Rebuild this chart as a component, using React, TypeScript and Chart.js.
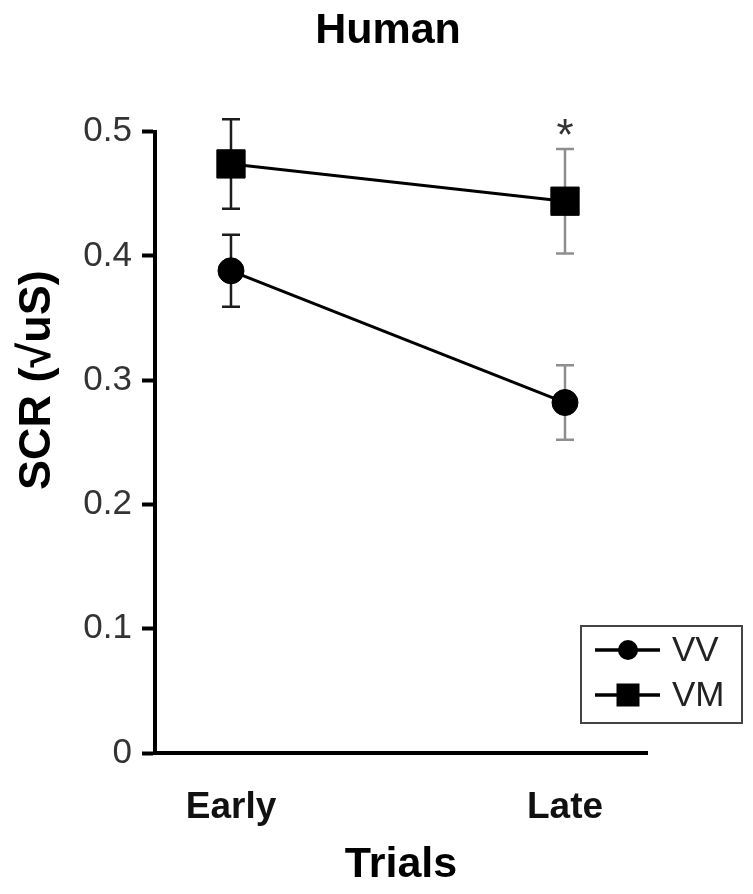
import React, { useEffect, useRef } from 'react';
import { Chart, registerables } from 'chart.js';

Chart.register(...registerables);

// ---- data ----
const categories = ['Early', 'Late'];
const seriesLabels = ['VV', 'VM'];
const vvMean = [0.388, 0.282];
const vvErr = [0.029, 0.030];
const vmMean = [0.474, 0.444];
const vmErr = [0.036, 0.042];
const yTicks = [0, 0.1, 0.2, 0.3, 0.4, 0.5];
const significance = ['', '*'];
const errColors = ['#1c1c1c', '#8e8e8e'];

const FONT = "'Liberation Sans', Arial, Helvetica, sans-serif";

const means = [vvMean, vmMean];
const errs = [vvErr, vmErr];

const errorBarPlugin = {
  id: 'errorBars',
  beforeDatasetsDraw(chart: any) {
    const { ctx, scales } = chart;
    const xs = scales.x;
    const ys = scales.y;
    ctx.save();
    means.forEach((m, d) => {
      m.forEach((v, i) => {
        const x = xs.getPixelForValue(i);
        const yt = ys.getPixelForValue(v + errs[d][i]);
        const yb = ys.getPixelForValue(v - errs[d][i]);
        ctx.strokeStyle = errColors[i];
        ctx.lineWidth = 2.5;
        ctx.beginPath();
        ctx.moveTo(x, yt);
        ctx.lineTo(x, yb);
        ctx.moveTo(x - 9, yt);
        ctx.lineTo(x + 9, yt);
        ctx.moveTo(x - 9, yb);
        ctx.lineTo(x + 9, yb);
        ctx.stroke();
      });
    });
    ctx.restore();
  },
};

const annotationPlugin = {
  id: 'annotations',
  afterDraw(chart: any) {
    const { ctx, scales, chartArea } = chart;
    const xs = scales.x;
    const ys = scales.y;
    ctx.save();
    // y-axis title
    ctx.translate(chartArea.left - 105, chartArea.top + (chartArea.bottom - chartArea.top) * 0.4);
    ctx.rotate(-Math.PI / 2);
    ctx.font = `bold 45px ${FONT}`;
    ctx.fillStyle = '#000';
    ctx.textAlign = 'center';
    ctx.textBaseline = 'alphabetic';
    ctx.fillText('SCR (\u221AuS)', 0, 0);
    ctx.restore();

    // significance marks
    ctx.save();
    ctx.font = `44px ${FONT}`;
    ctx.fillStyle = '#333';
    ctx.textAlign = 'center';
    ctx.textBaseline = 'alphabetic';
    significance.forEach((s, i) => {
      if (!s) return;
      const top = Math.max(vvMean[i] + vvErr[i], vmMean[i] + vmErr[i]);
      ctx.fillText(s, xs.getPixelForValue(i), ys.getPixelForValue(top) + 1);
    });
    ctx.restore();

    // legend
    ctx.save();
    const left = chartArea.right - 66;
    const right = chartArea.right + 95;
    const top = chartArea.bottom - 127;
    const bottom = chartArea.bottom - 30;
    ctx.strokeStyle = '#444';
    ctx.lineWidth = 2;
    ctx.strokeRect(left, top, right - left, bottom - top);
    chart.data.datasets.forEach((ds: any, k: number) => {
      const cy = top + 24 + k * 45;
      const lx1 = left + 14;
      const lx2 = left + 79;
      const cx = left + 47;
      ctx.strokeStyle = '#000';
      ctx.lineWidth = 3.5;
      ctx.beginPath();
      ctx.moveTo(lx1, cy);
      ctx.lineTo(lx2, cy);
      ctx.stroke();
      ctx.fillStyle = '#000';
      if (ds.pointStyle === 'circle') {
        ctx.beginPath();
        ctx.arc(cx, cy, 10, 0, Math.PI * 2);
        ctx.fill();
      } else {
        ctx.fillRect(cx - 11.5, cy - 11.5, 23, 23);
      }
      ctx.font = `35px ${FONT}`;
      ctx.fillStyle = '#222';
      ctx.textAlign = 'left';
      ctx.textBaseline = 'middle';
      ctx.fillText(ds.label, left + 91, cy + 1);
    });
    ctx.restore();
  },
};

export default function App() {
  const ref = useRef<HTMLCanvasElement | null>(null);

  useEffect(() => {
    if (!ref.current) return;
    const chart = new Chart(ref.current, {
      type: 'line',
      data: {
        datasets: [
          {
            label: seriesLabels[0],
            data: vvMean.map((y, i) => ({ x: i, y })),
            borderColor: '#000',
            backgroundColor: '#000',
            borderWidth: 3,
            pointStyle: 'circle',
            pointRadius: 13,
            pointBorderWidth: 1,
            pointBackgroundColor: '#000',
            pointBorderColor: '#000',
            clip: false,
          },
          {
            label: seriesLabels[1],
            data: vmMean.map((y, i) => ({ x: i, y })),
            borderColor: '#000',
            backgroundColor: '#000',
            borderWidth: 3,
            pointStyle: 'rect',
            pointRadius: 20,
            pointBorderWidth: 1,
            pointBackgroundColor: '#000',
            pointBorderColor: '#000',
            clip: false,
          },
        ],
      },
      options: {
        animation: false,
        responsive: false,
        devicePixelRatio: 1,
        layout: { padding: { left: 23, right: 0, top: 0, bottom: 0 } },
        plugins: {
          legend: { display: false },
          tooltip: { enabled: false },
          title: {
            display: true,
            text: 'Human',
            color: '#000',
            font: { family: FONT, size: 43, weight: 'bold' },
            padding: { top: 5, bottom: 75 },
          },
        },
        scales: {
          x: {
            type: 'linear',
            min: -0.2275,
            max: 1.2455,
            afterBuildTicks: (s: any) => {
              s.ticks = categories.map((_, i) => ({ value: i }));
            },
            afterFit: (s: any) => {
              s.height = 141;
            },
            grid: { display: true, drawOnChartArea: false, drawTicks: false },
            border: { display: true, color: '#000', width: 4 },
            ticks: {
              autoSkip: false,
              maxRotation: 0,
              padding: 33,
              color: '#111',
              font: { family: FONT, size: 37, weight: 'bold' },
              callback: (v: any) => categories[Math.round(Number(v))] ?? '',
            },
            title: {
              display: true,
              text: 'Trials',
              color: '#000',
              font: { family: FONT, size: 43, weight: 'bold' },
              padding: { top: 0, bottom: 3 },
            },
          },
          y: {
            min: 0,
            max: 0.5,
            afterBuildTicks: (s: any) => {
              s.ticks = yTicks.map((v) => ({ value: v }));
            },
            afterFit: (s: any) => {
              s.width = 132;
            },
            grid: {
              display: true,
              drawOnChartArea: false,
              drawTicks: true,
              tickLength: 13,
              tickWidth: 4,
              tickColor: '#000',
            },
            border: { display: true, color: '#000', width: 4 },
            ticks: {
              padding: 10,
              color: '#333',
              font: { family: FONT, size: 35 },
              callback: (_v: any, idx: number) => (yTicks[idx] === 0 ? '0' : yTicks[idx].toFixed(1)),
            },
          },
          // empty right-hand spacer axis that leaves room for the legend box
          yRight: {
            position: 'right',
            display: true,
            grid: { display: false },
            border: { display: false },
            ticks: { display: false },
            afterFit: (s: any) => {
              s.width = 106;
            },
          },
        },
      },
      plugins: [errorBarPlugin, annotationPlugin],
    } as any);
    return () => chart.destroy();
  }, []);

  return (
    <div style={{ position: 'absolute', left: 0, top: 0, width: 753, height: 894, background: '#fff' }}>
      <canvas ref={ref} width={753} height={894} style={{ display: 'block' }} />
    </div>
  );
}
